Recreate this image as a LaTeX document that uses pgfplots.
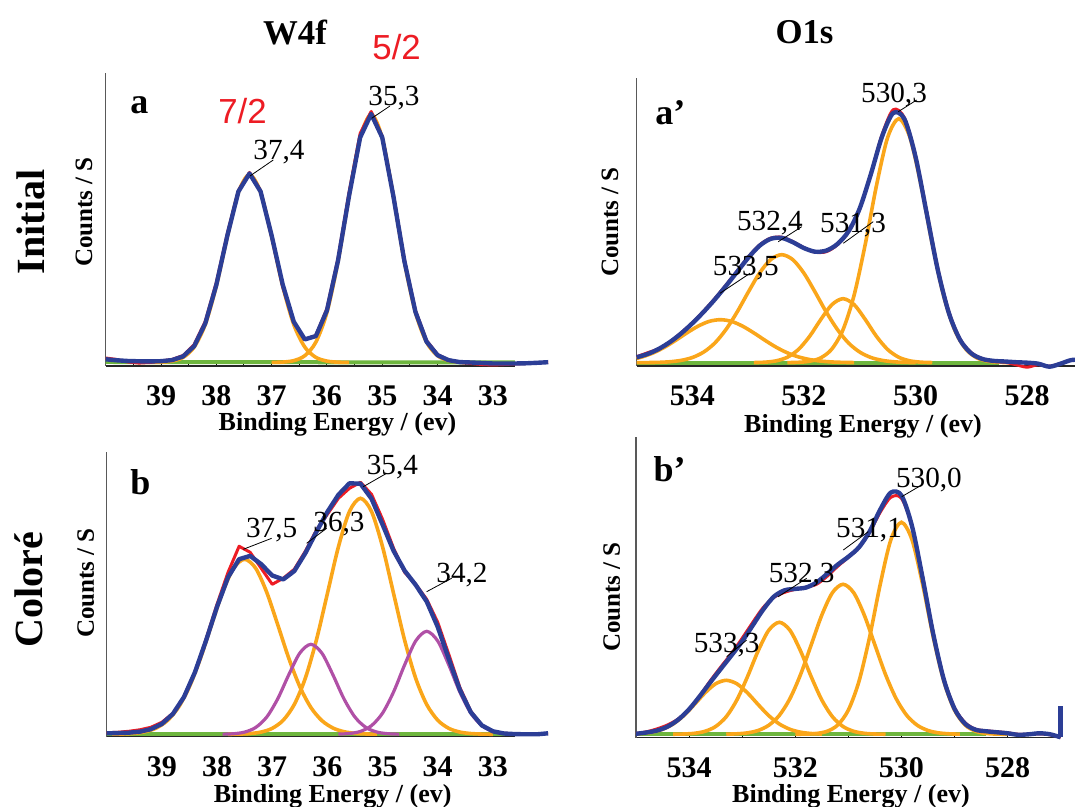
\documentclass[border=0pt]{standalone}
\usepackage{pgfplots}
\pgfplotsset{compat=1.18}
\usepackage{fontspec}
\setmainfont{Liberation Serif}
\newfontfamily\arialfont{Liberation Sans}
\definecolor{cblue}{RGB}{44,62,150}
\definecolor{cred}{RGB}{237,28,36}
\definecolor{corange}{RGB}{250,166,26}
\definecolor{cmag}{RGB}{176,80,166}
\definecolor{cgreen}{RGB}{110,182,62}
\pgfplotsset{
  xps/.style={
    scale only axis, clip=false,
    axis x line*=bottom, axis y line*=left,
    x dir=reverse,
    ytick=\empty,
    tick align=inside,
    major tick length=1.6pt, minor tick length=1.6pt,
    every tick/.style={black, line width=0.5pt},
    x axis line style={black!85, line width=0.7pt, -},
    y axis line style={black!65, line width=0.7pt, -},
    xticklabel style={font=\bfseries\fontsize{15}{15}\selectfont, inner sep=0pt, yshift=-9.6pt},
    anchor=south west,
  },
}
\tikzset{
  env/.style={cblue, line width=2.2pt, line join=round},
  envs/.style={cblue, line width=2.2pt, line join=round, smooth},
  dat/.style={cred, line width=1.5pt, line join=round},
  dats/.style={cred, line width=1.5pt, line join=round, smooth},
  comp/.style={corange, line width=1.8pt, smooth},
  compm/.style={cmag, line width=1.6pt, smooth},
  base/.style={cgreen, line width=2pt},
  lead/.style={black, line width=0.4pt},
  plab/.style={font=\fontsize{14.6}{15}\selectfont, anchor=base, inner sep=0pt},
  letter/.style={font=\bfseries\fontsize{18}{18}\selectfont, anchor=base west, inner sep=0pt},
}
\begin{document}
\begin{tikzpicture}
\path[use as bounding box] (0,0) rectangle (537.5pt,403.5pt);

% ---------------- Panel a : W4f initial ----------------
\begin{axis}[xps, at={(52.85pt,220.5pt)}, width=204.65pt, height=146.35pt,
  xmin=32.6, xmax=40, ymin=-3.5, ymax=289.2,
  xtick={33,34,35,36,37,38,39}, xticklabels={33,34,35,36,37,38,39},
  minor xtick={32.5,33.5,34.5,35.5,36.5,37.5,38.5,39.5}]
\addplot[base] coordinates {(40,0.5) (32.6,0)};
\addplot[comp] coordinates {(39.2,0.06)(39,0.3)(38.8,1.4)(38.6,5.1)(38.4,15.4)(38.2,38)(38,76.5)(37.8,126)(37.6,170.1)(37.4,188)(37.2,170.1)(37,126)(36.8,76.5)(36.6,38)(36.4,15.4)(36.2,5.1)(36,1.4)(35.8,0.3)(35.6,0.06)};
\addplot[comp] coordinates {(37,0.07)(36.8,0.41)(36.6,1.85)(36.4,6.8)(36.2,20.4)(36,50.1)(35.8,100.9)(35.6,166.2)(35.4,224.4)(35.2,248)(35,224.4)(34.8,166.2)(34.6,100.9)(34.4,50.1)(34.2,20.4)(34,6.8)(33.8,1.85)(33.6,0.41)(33.4,0.07)};
\addplot[dat] coordinates {(40,4.5)(39.8,3)(39.6,0.5)(39.4,-0.6)(39.2,0)(39,1.5)(38.8,3)(38.6,7)(38.4,18)(38.2,41)(38,80)(37.8,129)(37.6,172)(37.4,190)(37.2,172)(37,126)(36.8,76)(36.6,40)(36.4,23)(36.2,27)(36,54)(35.8,104)(35.6,170)(35.4,229)(35.2,251)(35,226)(34.8,168)(34.6,103)(34.4,52)(34.2,22)(34,8)(33.8,2.5)(33.6,0)(33.4,-1)(33.2,-2)(33,-2.5)(32.8,-2)(32.6,-1.5)(32.4,-1)(32.2,-0.3)(32,0.3)};
\addplot[env] coordinates {(40,3.2)(39.8,2.2)(39.6,1.5)(39.4,1.2)(39.2,1.1)(39,1.3)(38.8,2.4)(38.6,6.1)(38.4,16.4)(38.2,39)(38,77.5)(37.8,127)(37.6,171)(37.4,189)(37.2,171)(37,127)(36.8,78)(36.6,40.8)(36.4,23.1)(36.2,26.4)(36,52)(35.8,101.8)(35.6,166.7)(35.4,225)(35.2,248.5)(35,225)(34.8,166.7)(34.6,101.4)(34.4,50.6)(34.2,20.9)(34,7.3)(33.8,2.3)(33.6,0.4)(33.4,0)(33.2,-0.5)(33,-1)(32.8,-1)(32.6,-1)(32.4,-0.8)(32.2,-0.3)(32,0.3)};
\node[letter] at (axis cs:39.559,249.2) {a};
\draw[lead] (axis cs:37.391,186.5) -- (axis cs:36.97,202.5);
\node[plab] at (axis cs:36.867,203.2) {37,4};
\draw[lead] (axis cs:35.191,244.2) -- (axis cs:34.86,256.5);
\node[plab] at (axis cs:34.788,256.5) {35,3};
\end{axis}

% ---------------- Panel b : W4f colore ----------------
\begin{axis}[xps, at={(53.35pt,35.15pt)}, width=204.15pt, height=142.5pt,
  xmin=32.6, xmax=40, ymin=-2.4, ymax=282.6,
  xtick={33,34,35,36,37,38,39}, xticklabels={33,34,35,36,37,38,39},
  minor xtick={32.5,33.5,34.5,35.5,36.5,37.5,38.5,39.5}]
\addplot[base] coordinates {(40,0) (32.2,0)};
\addplot[comp] coordinates {(39.9,0.1)(39.7,0.32)(39.5,0.96)(39.3,2.6)(39.1,6.3)(38.9,13.7)(38.7,26.9)(38.5,47.7)(38.3,76.1)(38.1,109.6)(37.9,142.1)(37.7,166.1)(37.5,175)(37.3,166.1)(37.1,142.1)(36.9,109.6)(36.7,76.1)(36.5,47.7)(36.3,26.9)(36.1,13.7)(35.9,6.3)(35.7,2.6)(35.5,0.96)(35.3,0.32)(35.1,0.1)};
\addplot[comp] coordinates {(37.8,0.06)(37.6,0.22)(37.4,0.75)(37.2,2.24)(37,5.96)(36.8,14.1)(36.6,29.8)(36.4,56.1)(36.2,94.1)(36,140.7)(35.8,187.5)(35.6,222.8)(35.4,236)(35.2,222.8)(35,187.5)(34.8,140.7)(34.6,94.1)(34.4,56.1)(34.2,29.8)(34,14.1)(33.8,5.96)(33.6,2.24)(33.4,0.75)(33.2,0.22)(33,0.06)};
\addplot[compm] coordinates {(37.9,0.12)(37.7,0.57)(37.5,2.2)(37.3,6.8)(37.1,17.2)(36.9,35.5)(36.7,59.5)(36.5,81.2)(36.3,90)(36.1,81.2)(35.9,59.5)(35.7,35.5)(35.5,17.2)(35.3,6.8)(35.1,2.2)(34.9,0.57)(34.7,0.12)};
\addplot[compm] coordinates {(35.8,0.19)(35.6,0.8)(35.4,2.9)(35.2,8.7)(35,21.2)(34.8,42.4)(34.6,69.4)(34.4,93.3)(34.2,103)(34,93.3)(33.8,69.4)(33.6,42.4)(33.4,21.2)(33.2,8.7)(33,2.9)(32.8,0.8)(32.6,0.19)};
\addplot[dat] coordinates {(40,1.5)(39.8,2)(39.6,3)(39.4,4.5)(39.2,7)(39,12)(38.8,21)(38.6,37)(38.4,62)(38.2,95)(38,130)(37.8,162)(37.6,188)(37.4,182)(37.2,166)(37,150)(36.8,156)(36.6,165)(36.4,183)(36.2,204)(36,220)(35.8,236)(35.6,246)(35.4,252)(35.2,240)(35,215)(34.8,186)(34.6,162)(34.4,150)(34.2,135)(34,112)(33.8,80)(33.6,47)(33.4,23)(33.2,9)(33,3)(32.8,1)(32.6,0.5)(32.4,0)(32.2,0)(32,1)};
\addplot[env] coordinates {(40,1)(39.8,1.2)(39.6,1.6)(39.4,2.6)(39.2,5.1)(39,10.4)(38.8,20.4)(38.6,37.2)(38.4,62.1)(38.2,93.6)(38,127.5)(37.8,157.1)(37.6,175.1)(37.4,178.4)(37.2,170.1)(37,158.8)(36.8,154.9)(36.6,163.2)(36.4,181.1)(36.2,202.3)(36,222.4)(35.8,239.5)(35.6,251)(35.4,250.6)(35.2,235.6)(35,209.8)(34.8,183.4)(34.6,163.6)(34.4,149.4)(34.2,132.8)(34,107.4)(33.8,75.4)(33.6,44.6)(33.4,22)(33.2,8.9)(33,3)(32.8,0.8)(32.6,0.2)(32.4,0)(32.2,0)(32,1)};
\node[letter] at (axis cs:39.578,239.3) {b};
\draw[lead] (axis cs:37.524,185) -- (axis cs:37.01,196);
\node[plab] at (axis cs:37.01,196.6) {37,5};
\draw[lead] (axis cs:36.376,191) -- (axis cs:36.013,206);
\node[plab] at (axis cs:35.79,202.6) {36,3};
\draw[lead] (axis cs:35.35,247.6) -- (axis cs:34.926,261);
\node[plab] at (axis cs:34.821,260) {35,4};
\draw[lead] (axis cs:34.201,142.6) -- (axis cs:33.748,156);
\node[plab] at (axis cs:33.561,152) {34,2};
\end{axis}

% ---------------- Panel a' : O1s initial ----------------
\begin{axis}[xps, at={(318.35pt,220.5pt)}, width=219.15pt, height=143.85pt,
  xmin=527.14, xmax=535, ymin=-3.3, ymax=284.4,
  xtick={528,530,532,534}, xticklabels={528,530,532,534},
  minor xtick={527,529,531,533}]
\addplot[base] coordinates {(535,0) (528.5,0)};
\addplot[comp] coordinates {(535,4.3)(534.9,5.8)(534.7,9.9)(534.5,15.5)(534.3,22.4)(534.1,29.8)(533.9,36.5)(533.7,41.3)(533.5,43)(533.3,41.3)(533.1,36.5)(532.9,29.8)(532.7,22.4)(532.5,15.5)(532.3,9.9)(532.1,5.8)(531.9,3.16)(531.7,1.58)(531.5,0.73)(531.3,0.31)(531.1,0.12)};
\addplot[comp] coordinates {(535,0.04)(534.8,0.12)(534.6,0.35)(534.4,0.95)(534.2,2.34)(534,5.2)(533.8,10.6)(533.6,19.6)(533.4,33.1)(533.2,50.6)(533,70.5)(532.8,89.4)(532.6,103)(532.4,108)(532.2,103)(532,89.4)(531.8,70.5)(531.6,50.6)(531.4,33.1)(531.2,19.6)(531,10.6)(530.8,5.2)(530.6,2.34)(530.4,0.95)(530.2,0.35)(530,0.12)};
\addplot[comp] coordinates {(532.9,0.12)(532.7,0.5)(532.5,1.83)(532.3,5.4)(532.1,13.2)(531.9,26.3)(531.7,43.1)(531.5,58)(531.3,64)(531.1,58)(530.9,43.1)(530.7,26.3)(530.5,13.2)(530.3,5.4)(530.1,1.83)(529.9,0.5)(529.7,0.12)};
\addplot[comp] coordinates {(532.3,0.08)(532.1,0.37)(531.9,1.46)(531.7,4.8)(531.5,13.7)(531.3,33)(531.1,67.8)(530.9,118.8)(530.7,177.2)(530.5,225.2)(530.3,244)(530.1,225.2)(529.9,177.2)(529.7,118.8)(529.5,67.8)(529.3,33)(529.1,13.7)(528.9,4.8)(528.7,1.46)(528.5,0.37)(528.3,0.08)};
\addplot[dats] coordinates {(535,6)(534.8,10)(534.6,14)(534.4,21)(534.2,30)(534,40)(533.8,51.5)(533.6,64)(533.4,77.5)(533.2,91.5)(533,105.5)(532.8,117.5)(532.6,124.5)(532.4,125.5)(532.2,121)(532,115)(531.8,110.5)(531.6,111)(531.4,118)(531.2,131)(531,154)(530.8,189)(530.6,228)(530.4,253)(530.2,245)(530,207)(529.8,151)(529.6,94)(529.4,50.5)(529.2,23.5)(529,10)(528.8,4)(528.6,1.5)(528.4,0.5)(528.2,-2)(528,-4.5)(527.8,-2)(527.6,-3.5)(527.4,-1)(527.2,2.7)(527,2.7)};
\addplot[envs] coordinates {(535,5.4)(534.8,8.8)(534.6,13.9)(534.4,20.8)(534.2,29.4)(534,39.5)(533.8,50.8)(533.6,63.2)(533.4,76.7)(533.2,90.8)(533,104.9)(532.8,116.8)(532.6,123.8)(532.4,124.8)(532.2,120.5)(532,114.6)(531.8,111)(531.6,112.1)(531.4,118.7)(531.2,131.5)(531,154.4)(530.8,188.7)(530.6,226.2)(530.4,249.7)(530.2,243.7)(530,205.9)(529.8,149.3)(529.6,92.6)(529.4,49.3)(529.2,22.7)(529,9.3)(528.8,3.7)(528.6,1.8)(528.4,1.2)(528.2,0.5)(528,0)(527.8,-1)(527.6,-4)(527.4,-1)(527.2,2.7)(527,2.7)};
\node[letter] at (axis cs:534.672,237.7) {a’};
\draw[lead] (axis cs:530.309,251) -- (axis cs:529.979,262.7);
\node[plab] at (axis cs:530.386,260) {530,3};
\draw[lead] (axis cs:532.461,121) -- (axis cs:532.041,136);
\node[plab] at (axis cs:532.61,131.7) {532,4};
\draw[lead] (axis cs:531.295,119.4) -- (axis cs:530.758,141);
\node[plab] at (axis cs:531.121,130) {531,3};
\draw[lead] (axis cs:533.506,69.4) -- (axis cs:532.968,89.4);
\node[plab] at (axis cs:533.044,86.7) {533,5};
\end{axis}

% ---------------- Panel b' : O1s colore ----------------
\begin{axis}[xps, at={(318pt,34.65pt)}, width=212.35pt, height=150.5pt,
  xmin=527, xmax=535, ymin=-3.4, ymax=297.6,
  xtick={528,530,532,534}, xticklabels={528,530,532,534},
  minor xtick={527,529,531,533}]
\addplot[base] coordinates {(535,0) (528.4,0)};
\addplot[comp] coordinates {(535,0.45)(534.9,0.79)(534.7,2.1)(534.5,5)(534.3,10.3)(534.1,18.7)(533.9,29.8)(533.7,41.4)(533.5,50.5)(533.3,54)(533.1,50.5)(532.9,41.4)(532.7,29.8)(532.5,18.7)(532.3,10.3)(532.1,5)(531.9,2.1)(531.7,0.79)(531.5,0.25)};
\addplot[comp] coordinates {(534.3,0.07)(534.1,0.28)(533.9,0.99)(533.7,2.99)(533.5,7.8)(533.3,17.6)(533.1,34.3)(532.9,57.6)(532.7,83.3)(532.5,104)(532.3,112)(532.1,104)(531.9,83.3)(531.7,57.6)(531.5,34.3)(531.3,17.6)(531.1,7.8)(530.9,2.99)(530.7,0.99)(530.5,0.28)(530.3,0.07)};
\addplot[comp] coordinates {(533.3,0.14)(533.1,0.48)(532.9,1.43)(532.7,3.8)(532.5,9)(532.3,18.9)(532.1,35.7)(531.9,59.8)(531.7,89.4)(531.5,119.2)(531.3,141.6)(531.1,150)(530.9,141.6)(530.7,119.2)(530.5,89.4)(530.3,59.8)(530.1,35.7)(529.9,18.9)(529.7,9)(529.5,3.8)(529.3,1.43)(529.1,0.48)(528.9,0.14)};
\addplot[comp] coordinates {(532,0.04)(531.8,0.19)(531.6,0.82)(531.4,3)(531.2,9.3)(531,24.2)(530.8,52.9)(530.6,97.1)(530.4,149.8)(530.2,194.4)(530,212)(529.8,194.4)(529.6,149.8)(529.4,97.1)(529.2,52.9)(529,24.2)(528.8,9.3)(528.6,3)(528.4,0.82)(528.2,0.19)(528,0.04)};
\addplot[dats] coordinates {(535,0.8)(534.8,2.5)(534.6,5.5)(534.4,9.5)(534.2,15.5)(534,25)(533.8,38.5)(533.6,53.5)(533.4,67.5)(533.2,81)(533,96)(532.8,112)(532.6,127)(532.4,137)(532.2,142)(532,145)(531.8,147)(531.6,150)(531.4,158)(531.2,168)(531,177)(530.8,187)(530.6,202)(530.4,222)(530.2,237)(530,236)(529.8,208)(529.6,157)(529.4,101)(529.2,55.5)(529,26.5)(528.8,11.5)(528.6,5)(528.4,3.5)(528.2,2.5)(528,1.5)(527.8,0)(527.6,0)(527.4,0.5)(527.2,-0.5)(527,-3)};
\addplot[envs] coordinates {(535,0.5)(534.8,1.8)(534.6,3.8)(534.4,7.8)(534.2,14.8)(534,25)(533.8,38)(533.6,52)(533.4,65.6)(533.2,79)(533,93)(532.8,109)(532.6,125)(532.4,137.8)(532.2,144)(532,145.4)(531.8,146.7)(531.6,151.8)(531.4,160.4)(531.2,169.7)(531,177.5)(530.8,187)(530.6,202.8)(530.4,224.6)(530.2,241.7)(530,238.9)(529.8,208)(529.6,156)(529.4,100)(529.2,54.5)(529,25.5)(528.8,10.5)(528.6,4.5)(528.4,3)(528.2,2)(528,1)(527.8,-0.5)(527.6,0)(527.4,1)(527.2,0)(527,-3)};
\addplot[env] coordinates {(527,-3)(527,28)};
\node[letter] at (axis cs:534.674,252.6) {b’};
\draw[lead] (axis cs:529.995,237.6) -- (axis cs:529.619,249.3);
\node[plab] at (axis cs:529.481,246.6) {530,0};
\draw[lead] (axis cs:531.095,184.3) -- (axis cs:530.624,202.6);
\node[plab] at (axis cs:530.611,196.6) {531,1};
\draw[lead] (axis cs:532.32,137.6) -- (axis cs:531.785,156);
\node[plab] at (axis cs:531.879,151.6) {532,3};
\draw[lead] (axis cs:533.292,77.6) -- (axis cs:532.915,94.3);
\node[plab] at (axis cs:533.292,81.6) {533,3};
\end{axis}

% ---------------- titles and labels ----------------
\begin{scope}[x=0.5pt,y=-0.5pt,yshift=403.5pt]
\node[font=\bfseries\fontsize{17.4}{18}\selectfont, anchor=base, inner sep=0pt] at (295,45) {W4f};
\node[font=\bfseries\fontsize{17.4}{18}\selectfont, anchor=base, inner sep=0pt] at (804.5,43.3) {O1s};
\node[font=\arialfont\fontsize{17.4}{18}\selectfont, text=cred, anchor=base, inner sep=0pt] at (242.5,123.3) {7/2};
\node[font=\arialfont\fontsize{17.4}{18}\selectfont, text=cred, anchor=base, inner sep=0pt] at (396.6,60) {5/2};
\node[font=\bfseries\fontsize{20}{20}\selectfont, rotate=90, inner sep=0pt] at (30.4,222) {Initial};
\node[font=\bfseries\fontsize{20}{20}\selectfont, rotate=90, inner sep=0pt] at (29,590) {Coloré};
\node[font=\bfseries\fontsize{12.5}{13}\selectfont, rotate=90, inner sep=0pt] at (84,212) {Counts / S};
\node[font=\bfseries\fontsize{12.5}{13}\selectfont, rotate=90, inner sep=0pt] at (85.7,583) {Counts / S};
\node[font=\bfseries\fontsize{12.5}{13}\selectfont, rotate=90, inner sep=0pt] at (610,222) {Counts / S};
\node[font=\bfseries\fontsize{12.5}{13}\selectfont, rotate=90, inner sep=0pt] at (611.7,597) {Counts / S};
\node[font=\bfseries\fontsize{13}{13}\selectfont, anchor=base, inner sep=0pt] at (337.5,431) {Binding Energy / (ev)};
\node[font=\bfseries\fontsize{13}{13}\selectfont, anchor=base, inner sep=0pt] at (332.7,802.5) {Binding Energy / (ev)};
\node[font=\bfseries\fontsize{13}{13}\selectfont, anchor=base, inner sep=0pt] at (863,433) {Binding Energy / (ev)};
\node[font=\bfseries\fontsize{13}{13}\selectfont, anchor=base, inner sep=0pt] at (851,803) {Binding Energy / (ev)};
\end{scope}
\end{tikzpicture}
\end{document}
